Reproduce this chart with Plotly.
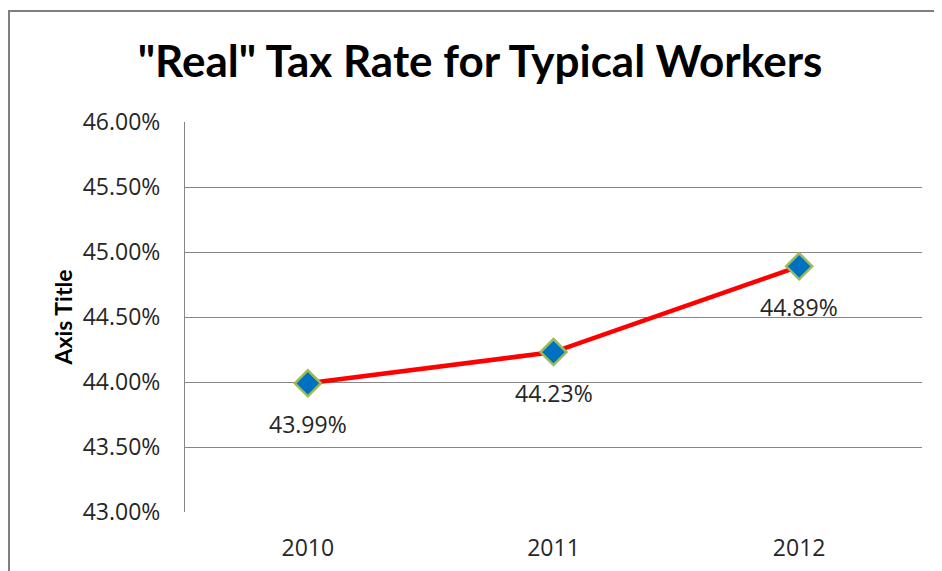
import plotly.graph_objects as go

years = ["2010", "2011", "2012"]
rates = [0.4399, 0.4423, 0.4489]
y_ticks = [0.43, 0.435, 0.44, 0.445, 0.45, 0.455, 0.46]

# page is rendered with an 8px body offset; figure coords = screen coords - 8
W, H = 942, 571
OFF = 8
L, T = 185 - OFF, 122 - OFF
R = W - (922 - OFF)
B = H - (512 - OFF)
pw, ph = W - L - R, H - T - B

fig = go.Figure()
fig.add_trace(go.Scatter(
    x=years, y=rates, mode="lines+markers",
    line=dict(color="#FF0000", width=4.5),
    marker=dict(symbol="diamond", size=20, color="#0070C0",
                line=dict(color="#9BBB59", width=2.5)),
    hoverinfo="skip", showlegend=False,
))

for i, v in enumerate(rates):
    fig.add_annotation(x=i, y=v, xref="x", yref="y", text=f"{v*100:.2f}%", showarrow=False,
                       yshift=-41, font=dict(family="Open Sans", size=23, color="#262626"))

# outer chart frame
fig.add_shape(type="rect", xref="paper", yref="paper",
              x0=(8 - OFF - L + 1) / pw, x1=(W + 30 - L) / pw,
              y0=-(B + 30) / ph, y1=(H - (11 - OFF) - B) / ph,
              line=dict(color="#7F7F7F", width=2), fillcolor="rgba(0,0,0,0)", layer="below")

fig.update_layout(
    width=W, height=H,
    margin=dict(l=L, r=R, t=T, b=B),
    paper_bgcolor="white", plot_bgcolor="white",
    title=dict(text='"Real" Tax Rate for Typical Workers',
               x=(480 - OFF) / W, xref="container", xanchor="center",
               y=1 - (62 - OFF) / H, yref="container", yanchor="middle",
               font=dict(family="Lato", size=44, color="black", weight="bold")),
    xaxis=dict(type="category", range=[-0.5, 2.5], showgrid=False, zeroline=False,
               showline=False, ticks="", ticklabelstandoff=20,
               tickfont=dict(family="Open Sans", size=23, color="#262626")),
    yaxis=dict(range=[0.43, 0.46], tickvals=y_ticks, tickformat=".2%",
               showgrid=True, gridcolor="#868686", gridwidth=1,
               showline=True, linecolor="#868686", linewidth=1, zeroline=False,
               ticks="", ticklabelstandoff=19,
               tickfont=dict(family="Open Sans", size=23, color="#262626"),
               title=dict(text="Axis Title", standoff=3,
                          font=dict(family="Lato", size=23, color="black", weight="bold"))),
)

fig.write_html("out.html")
